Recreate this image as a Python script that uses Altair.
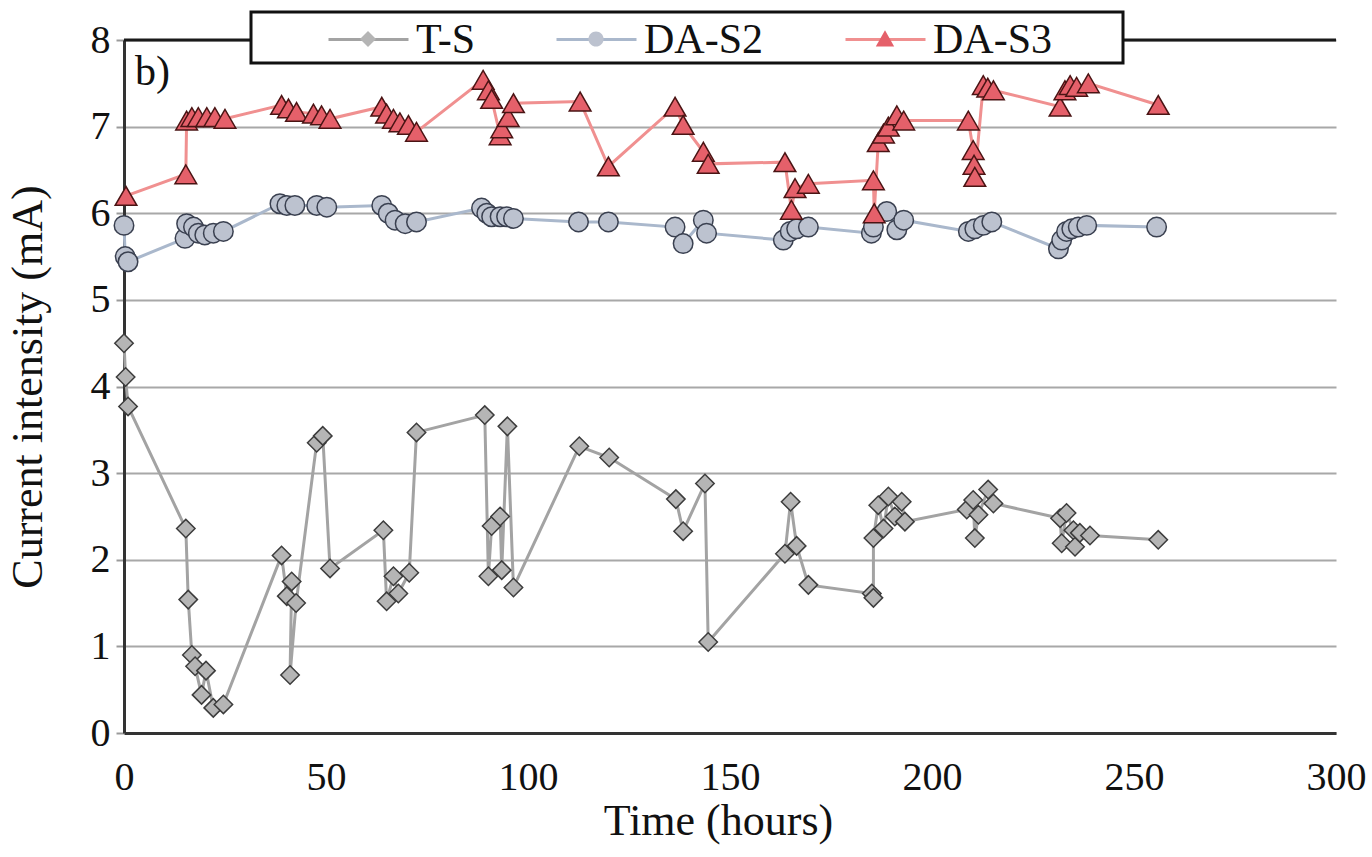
import altair as alt
import pandas as pd

# ---------------- data ----------------
series_names = ["T-S", "DA-S2", "DA-S3"]

ts_time = [0.0, 0.4, 1.0, 15.3, 15.9, 16.8, 17.6, 19.2, 20.3, 22.1, 24.6,
           39.0, 40.3, 41.5, 41.1, 42.6, 47.7, 49.2, 51.0, 64.2, 65.0, 66.7,
           67.9, 70.6, 72.4, 89.3, 90.2, 91.0, 93.1, 93.5, 94.9, 96.4, 112.7,
           120.1, 136.6, 138.4, 143.8, 144.6, 163.6, 165.0, 166.5, 169.4,
           185.1, 185.5, 185.5, 186.7, 188.0, 189.2, 190.8, 192.5, 193.3,
           208.6, 210.2, 210.6, 211.5, 213.9, 215.2, 231.7, 232.1, 233.3,
           235.0, 235.4, 236.6, 239.1, 256.0]
ts_val = [4.50, 4.11, 3.77, 2.36, 1.54, 0.90, 0.77, 0.44, 0.72, 0.29, 0.33,
          2.05, 1.58, 1.75, 0.67, 1.50, 3.35, 3.43, 1.90, 2.34, 1.52, 1.81,
          1.61, 1.85, 3.47, 3.67, 1.81, 2.39, 2.50, 1.88, 3.54, 1.68, 3.31,
          3.18, 2.70, 2.33, 2.88, 1.05, 2.07, 2.67, 2.16, 1.71,
          1.61, 1.56, 2.25, 2.63, 2.36, 2.73, 2.50, 2.67, 2.44,
          2.58, 2.69, 2.25, 2.52, 2.81, 2.65, 2.48, 2.19, 2.54,
          2.34, 2.15, 2.31, 2.28, 2.23]

s2_time = [0.0, 0.3, 1.0, 15.1, 15.5, 17.2, 18.4, 20.0, 22.1, 24.6, 38.6,
           40.3, 42.3, 47.7, 50.2, 63.8, 65.4, 67.1, 69.6, 72.4, 88.5, 89.8,
           91.0, 93.1, 94.7, 96.4, 112.5, 119.9, 136.4, 138.4, 143.4, 144.2,
           163.2, 164.9, 166.5, 169.4, 185.0, 185.5, 188.8, 191.3, 193.0,
           209.0, 210.6, 212.7, 214.8, 231.3, 232.1, 233.3, 234.6, 236.2,
           238.3, 255.6]
s2_val = [5.86, 5.50, 5.44, 5.71, 5.88, 5.84, 5.77, 5.75, 5.77, 5.79, 6.11,
          6.09, 6.09, 6.09, 6.07, 6.09, 6.00, 5.92, 5.88, 5.90, 6.06, 6.00,
          5.96, 5.96, 5.96, 5.94, 5.90, 5.90, 5.84, 5.65, 5.92, 5.77,
          5.69, 5.79, 5.82, 5.84, 5.77, 5.84, 6.02, 5.81, 5.92,
          5.79, 5.82, 5.86, 5.90, 5.59, 5.69, 5.79, 5.82, 5.84,
          5.86, 5.84]

s3_time = [0.5, 15.3, 15.5, 16.8, 18.4, 20.5, 22.5, 25.0, 39.0, 40.7, 42.7,
           46.9, 48.9, 51.0, 63.8, 65.0, 66.7, 68.3, 70.4, 72.4, 88.9, 90.2,
           91.0, 93.1, 93.5, 95.1, 96.4, 112.9, 119.9, 136.4, 138.4, 143.4,
           144.6, 163.6, 165.2, 166.1, 169.4, 185.5, 185.7, 186.7, 188.0,
           189.2, 191.3, 193.0, 209.0, 210.2, 210.4, 210.6, 212.7, 213.8,
           215.2, 231.7, 232.9, 234.2, 235.8, 238.7, 256.0]
s3_val = [6.20, 6.45, 7.07, 7.11, 7.11, 7.11, 7.11, 7.09, 7.25, 7.21, 7.17,
          7.15, 7.13, 7.09, 7.23, 7.15, 7.09, 7.05, 7.02, 6.94, 7.54, 7.42,
          7.32, 6.90, 6.98, 7.11, 7.27, 7.29, 6.54, 7.23, 7.02, 6.71,
          6.57, 6.59, 6.04, 6.29, 6.34, 6.38, 6.00, 6.82, 6.92,
          7.00, 7.13, 7.07, 7.07, 6.73, 6.56, 6.42, 7.48, 7.45,
          7.42, 7.23, 7.42, 7.48, 7.46, 7.50, 7.25]

x_ticks = [0, 50, 100, 150, 200, 250, 300]
y_ticks = [0, 1, 2, 3, 4, 5, 6, 7, 8]

# ---------------- styles ----------------
line_colors = ["#a3a3a3", "#aab8cc", "#f09090"]
fill_colors = ["#b5b5b5", "#bcc2cf", "#e5606a"]
edge_colors = ["#3c3c3c", "#3a4050", "#4a1414"]
shapes = ["diamond", "circle", "triangle-up"]
sizes = [340, 380, 470]
legend_paths = [
    "M0,-0.2L0.2,0L0,0.2L-0.2,0Z",
    "M-0.19,0A0.19,0.19,0,1,1,0.19,0A0.19,0.19,0,1,1,-0.19,0Z",
    "M0,-0.22L0.23,0.19L-0.23,0.19Z",
]
legend_x = [203, 431, 720]   # left edge of each legend entry (px from the plot's left edge)
FONT = "Liberation Serif"
W, H = 1212, 693

rows = []
for name, tt, vv in zip(series_names, [ts_time, s2_time, s3_time], [ts_val, s2_val, s3_val]):
    for i, (t, v) in enumerate(zip(tt, vv)):
        rows.append({"series": name, "series_m": name + "*", "time": t, "value": v, "order": i})
df = pd.DataFrame(rows)

x_enc = alt.X("time:Q",
              scale=alt.Scale(domain=[0, 300], nice=False, zero=False),
              axis=alt.Axis(values=x_ticks, title="Time (hours)", grid=False, ticks=False,
                            tickSize=0, labelPadding=24, labelFlush=False, labelOverlap=False,
                            titlePadding=2, titleX=594))
y_enc = alt.Y("value:Q",
              scale=alt.Scale(domain=[0, 8], nice=False),
              axis=alt.Axis(values=y_ticks, title="Current intensity (mA)", grid=True,
                            gridColor="#a8a8a8", gridWidth=2, ticks=True, tickSize=8,
                            tickColor="#9a9a9a", tickWidth=2, labelPadding=6,
                            titlePadding=40))

layers = []

# plot-area top border
one = pd.DataFrame({"k": [0]})
layers.append(alt.Chart(one).mark_rule(color="#1a1a1a", strokeWidth=3).encode(
    x=alt.value(0), x2=alt.value(W), y=alt.value(0)))

# series: line then markers
for name, lc, fc, ec, shp, sz in zip(series_names, line_colors, fill_colors, edge_colors, shapes, sizes):
    base = alt.Chart(df).transform_filter(alt.datum.series == name)
    layers.append(base.mark_line(color=lc, strokeWidth=3).encode(x=x_enc, y=y_enc, order="order:Q"))
    layers.append(base.mark_point(shape=shp, filled=True, fill=fc, stroke=ec, strokeWidth=1.5,
                                  size=sz, opacity=1).encode(x=x_enc, y=y_enc))

# legend frame
layers.append(alt.Chart(one).mark_rect(fill="white", stroke="#111111", strokeWidth=3).encode(
    x=alt.value(127), x2=alt.value(999), y=alt.value(-28), y2=alt.value(23)))

# "b)" panel label
layers.append(alt.Chart(one).mark_text(text="b)", font=FONT, fontSize=42, align="left",
                                       baseline="middle", color="#111111").encode(
    x=alt.value(11), y=alt.value(32)))

# legends: one single-entry legend per series (segment + label), and one marker on top of it
for name, lc, fc, path, lx in zip(series_names, line_colors, fill_colors, legend_paths, legend_x):
    common = dict(orient="none", legendX=lx, legendY=-42, title=None, symbolSize=6400,
                  labelFont=FONT, labelFontSize=42, labelOffset=6, padding=0, labelLimit=600)
    empty = alt.Chart(df).transform_filter("false")
    layers.append(empty.mark_line(strokeWidth=3).encode(
        x=x_enc, y=y_enc,
        stroke=alt.Stroke("series:N", scale=alt.Scale(domain=[name], range=[lc]),
                          legend=alt.Legend(symbolType="stroke", symbolStrokeWidth=3,
                                            labelColor="#111111", **common))))
    mk_leg = alt.Legend(symbolStrokeWidth=1.5, symbolStrokeColor="#333333", symbolOpacity=1,
                        labelExpr="''", **common)
    layers.append(empty.mark_point(filled=True, stroke="#333333", strokeWidth=1.5, opacity=1).encode(
        x=x_enc, y=y_enc,
        shape=alt.Shape("series_m:N", scale=alt.Scale(domain=[name + "*"], range=[path]), legend=mk_leg),
        fill=alt.Fill("series_m:N", scale=alt.Scale(domain=[name + "*"], range=[fc]), legend=mk_leg)))

chart = alt.layer(*layers).resolve_scale(
    stroke="independent", shape="independent", fill="independent"
).resolve_legend(
    stroke="independent", shape="independent", fill="independent"
).properties(
    width=W, height=H,
    autosize=alt.AutoSizeParams(type="none"),
    padding={"left": 124, "top": 40, "right": 36, "bottom": 124},
    background="white",
).configure_view(stroke=None).configure_axis(
    labelFont=FONT, labelFontSize=40, labelColor="#111111",
    titleFont=FONT, titleFontSize=44, titleFontWeight="normal", titleColor="#111111",
    domainColor="#333333", domainWidth=3,
)

chart.save("out.html", embed_options={"renderer": "svg", "actions": False})
